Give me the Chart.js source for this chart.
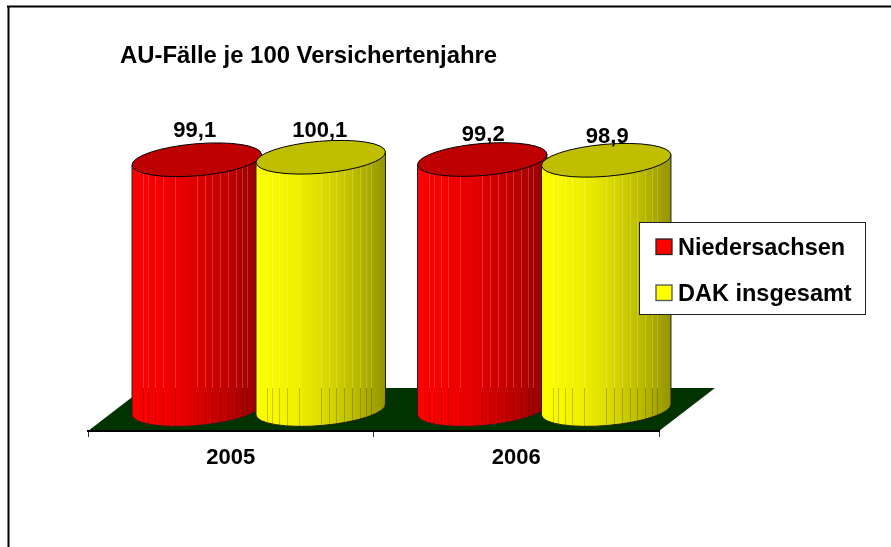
<!DOCTYPE html>
<html lang="de">
<head>
<meta charset="utf-8">
<title>AU-Fälle je 100 Versichertenjahre</title>
<script src="https://cdn.jsdelivr.net/npm/chart.js@4/dist/chart.umd.min.js"></script>
<style>
  html, body { margin: 0; padding: 0; background: #fff; }
  canvas { display: block; }
</style>
</head>
<body>
<canvas id="chart" width="891" height="547"></canvas>
<script>
'use strict';

// ***** DATA *****
const chartTitle = 'AU-Fälle je 100 Versichertenjahre';
const years = ['2005', '2006'];
const niedersachsen = [99.1, 99.2];
const dakInsgesamt = [100.1, 98.9];
const seriesNames = ['Niedersachsen', 'DAK insgesamt'];
const seriesColors = ['#ff0000', '#ffff00'];

// ***** LOOK *****
const FONT = '"Liberation Sans", Arial, sans-serif';
const DEPTH_X = 56;   // floor depth, the bars stand in the middle of it
const DEPTH_Y = 43;
const TILT = -0.085;  // ellipse rotation
const RY = 16;
const topColors = ['#bf0000', '#bfbf00'];
const shadeStops = [[0, 1], [0.3, 0.94], [0.5, 0.87], [0.75, 0.74], [1, 0.58]];
const stripes = [0.09, 0.125, 0.18, 0.24, 0.33, 0.5, 0.56, 0.62, 0.68, 0.74, 0.8, 0.85, 0.89];
// small hand corrections of the value labels, per series and year
const labelShift = [[[0, -2], [3, 2]], [[1, 1], [3, 3.5]]];

function shade(hex, f){
  let r = Math.round(parseInt(hex.slice(1, 3), 16) * f);
  let g = Math.round(parseInt(hex.slice(3, 5), 16) * f);
  let b = Math.round(parseInt(hex.slice(5, 7), 16) * f);
  return `rgb(${r},${g},${b})`;
}

// bars are drawn as tilted cylinders, geometry comes from the bar element
Chart.BarElement.prototype.draw = function(ctx){
  let rx = this.width / 2;
  let left = this.x - rx;
  let color = this.options.backgroundColor;
  let dx = rx * Math.cos(TILT);
  let dy = rx * Math.sin(TILT);

  let body = new Path2D();
  body.moveTo(this.x + dx, this.y + dy);
  body.lineTo(this.x + dx, this.base + dy);
  body.ellipse(this.x, this.base, rx, RY, TILT, 0, Math.PI);
  body.lineTo(this.x - dx, this.y - dy);
  body.closePath();

  let grad = ctx.createLinearGradient(left, 0, left + this.width, 0);
  shadeStops.forEach(s => grad.addColorStop(s[0], shade(color, s[1])));

  ctx.save();
  ctx.fillStyle = grad;
  ctx.fill(body);

  // thin vertical stripes, light above the back of the floor, dark below
  ctx.save();
  ctx.clip(body);
  ctx.lineWidth = 1;
  let split = this.base + DEPTH_Y / 2 - DEPTH_Y;
  stripes.forEach(s => {
    let sx = Math.round(left + s * this.width) + 0.5;
    ctx.strokeStyle = 'rgba(255,255,255,0.2)';
    ctx.beginPath();
    ctx.moveTo(sx, this.y - 30);
    ctx.lineTo(sx, split);
    ctx.stroke();
    ctx.strokeStyle = 'rgba(0,0,0,0.2)';
    ctx.beginPath();
    ctx.moveTo(sx, split);
    ctx.lineTo(sx, this.base + 30);
    ctx.stroke();
  });
  ctx.restore();

  ctx.strokeStyle = '#222';
  ctx.lineWidth = 1;
  ctx.stroke(body);

  ctx.beginPath();
  ctx.ellipse(this.x, this.y, rx, RY, TILT, 0, Math.PI * 2);
  ctx.fillStyle = topColors[seriesColors.indexOf(color)];
  ctx.fill();
  ctx.strokeStyle = '#000';
  ctx.stroke();
  ctx.restore();
};

const scenePlugin = {
  id: 'scene',
  beforeDraw(chart){
    let ctx = chart.ctx;
    let xs = chart.scales.x;
    let y0 = chart.scales.y.getPixelForValue(0);

    // frame of the slide
    ctx.save();
    ctx.strokeStyle = '#000';
    ctx.lineWidth = 2;
    ctx.beginPath();
    ctx.moveTo(8.5, 547);
    ctx.lineTo(8.5, 6.5);
    ctx.moveTo(7, 6.5);
    ctx.lineTo(891, 6.5);
    ctx.stroke();

    // floor
    ctx.fillStyle = '#003300';
    ctx.beginPath();
    ctx.moveTo(xs.left, y0);
    ctx.lineTo(xs.right, y0);
    ctx.lineTo(xs.right + DEPTH_X, y0 - DEPTH_Y);
    ctx.lineTo(xs.left + DEPTH_X, y0 - DEPTH_Y);
    ctx.closePath();
    ctx.fill();

    // title
    ctx.fillStyle = '#000';
    ctx.font = `bold 23.9px ${FONT}`;
    ctx.textAlign = 'left';
    ctx.textBaseline = 'alphabetic';
    ctx.fillText(chartTitle, 120, 63);
    ctx.restore();
  },
  beforeDatasetsDraw(chart){
    // series 1 has to sit in front of series 0, so draw them in this order
    let ctx = chart.ctx;
    ctx.save();
    ctx.translate(DEPTH_X / 2, -DEPTH_Y / 2);
    chart.data.datasets.forEach((d, i) => chart.getDatasetMeta(i).controller.draw());
    ctx.restore();
    return false;
  },
  afterDraw(chart){
    let ctx = chart.ctx;
    ctx.save();

    // value labels
    ctx.fillStyle = '#000';
    ctx.font = `bold 22px ${FONT}`;
    ctx.textAlign = 'center';
    ctx.textBaseline = 'alphabetic';
    chart.data.datasets.forEach((d, i) => {
      chart.getDatasetMeta(i).data.forEach((bar, j) => {
        let text = d.data[j].toFixed(1).replace('.', ',');
        let shift = labelShift[i][j];
        ctx.fillText(text, bar.x + DEPTH_X / 2 - 2 + shift[0], bar.y - DEPTH_Y / 2 - 21 + shift[1]);
      });
    });

    // legend
    ctx.fillStyle = '#fff';
    ctx.strokeStyle = '#222';
    ctx.lineWidth = 1;
    ctx.fillRect(639.5, 222.5, 226, 92);
    ctx.strokeRect(639.5, 222.5, 226, 92);
    ctx.textAlign = 'left';
    ctx.font = `bold 23.5px ${FONT}`;
    seriesNames.forEach((name, i) => {
      let top = 239 + i * 46;
      ctx.fillStyle = seriesColors[i];
      ctx.fillRect(656, top, 16, 15.5);
      ctx.lineWidth = 1.3;
      ctx.strokeStyle = i === 0 ? '#222' : '#555';
      ctx.strokeRect(656, top, 16, 15.5);
      ctx.fillStyle = '#000';
      ctx.fillText(name, 678, top + 15.5);
    });
    ctx.restore();
  }
};

new Chart(document.getElementById('chart'), {
  type: 'bar',
  data: {
    labels: years,
    datasets: [
      { label: seriesNames[0], data: niedersachsen, backgroundColor: seriesColors[0] },
      { label: seriesNames[1], data: dakInsgesamt, backgroundColor: seriesColors[1] }
    ]
  },
  options: {
    responsive: false,
    animation: false,
    categoryPercentage: 0.8686,
    barPercentage: 1.048,
    layout: { padding: { left: 88, right: 232, top: 128.6, bottom: 0 } },
    plugins: {
      legend: { display: false },
      title: { display: false },
      tooltip: { enabled: false }
    },
    scales: {
      x: {
        afterFit(scale){ scale.height = 116; },
        border: { color: '#000', width: 2 },
        grid: { drawOnChartArea: false, color: '#333', tickLength: 6 },
        ticks: { color: '#000', padding: 8, font: { family: FONT, size: 22, weight: 'bold' } }
      },
      y: { display: false, min: 0, max: 120 }
    }
  },
  plugins: [scenePlugin]
});
</script>
</body>
</html>
